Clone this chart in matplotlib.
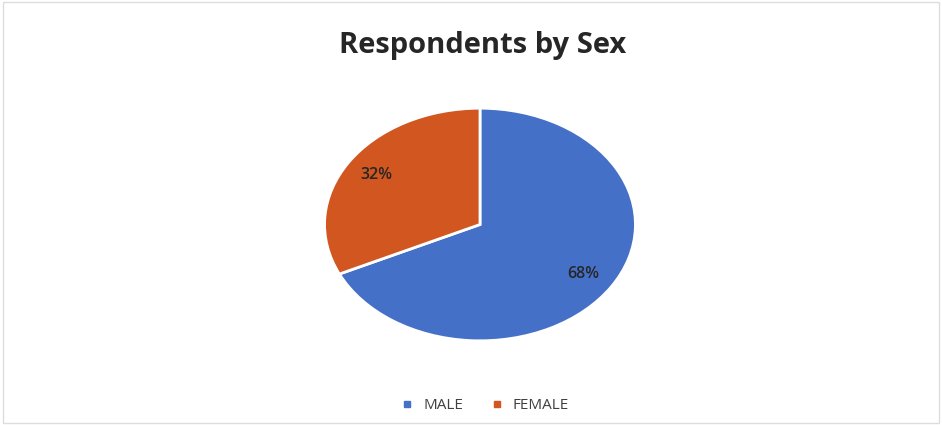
import matplotlib.pyplot as plt
from matplotlib.lines import Line2D
from matplotlib.patches import Rectangle

# data
labels = ['MALE', 'FEMALE']
shares = [68, 32]
colors = ['#4570C8', '#D1561F']
title = 'Respondents by Sex'

fig = plt.figure(figsize=(9.42, 4.25), dpi=100)
fig.patch.set_facecolor('white')

# light frame round the chart area
fig.patches.append(Rectangle((0.003, 0.005), 0.994, 0.99, transform=fig.transFigure,
                             fill=False, edgecolor='#dddddd', linewidth=1))

ax = fig.add_axes([0.3429, 0.1953, 0.3333, 0.5529])
wedges, texts, autotexts = ax.pie(shares, colors=colors, startangle=90, counterclock=False,
                                  autopct='%d%%', pctdistance=0.79,
                                  wedgeprops=dict(edgecolor='white', linewidth=2))
for t in autotexts:
    t.set_fontsize(11.5)
    t.set_fontweight('semibold')
    t.set_color('#262626')
    t.set_family('Open Sans')
ax.set_aspect('auto')  # the original pie is an ellipse
ax.set_xlim(-1.01, 1.01)
ax.set_ylim(-1.01, 1.01)

fig.text(0.512, 0.893, title, ha='center', va='center', fontsize=21,
         fontweight='bold', color='#262626', family='Open Sans')

handles = [Line2D([], [], marker='s', linestyle='', color=c, markersize=4) for c in colors]
fig.legend(handles, labels, loc='center', bbox_to_anchor=(0.51, 0.045), ncol=2,
           frameon=False, handletextpad=0.05, columnspacing=1.2,
           labelcolor='#404040', prop={'family': 'Open Sans', 'size': 11})

fig.savefig('out.png', dpi=100)
